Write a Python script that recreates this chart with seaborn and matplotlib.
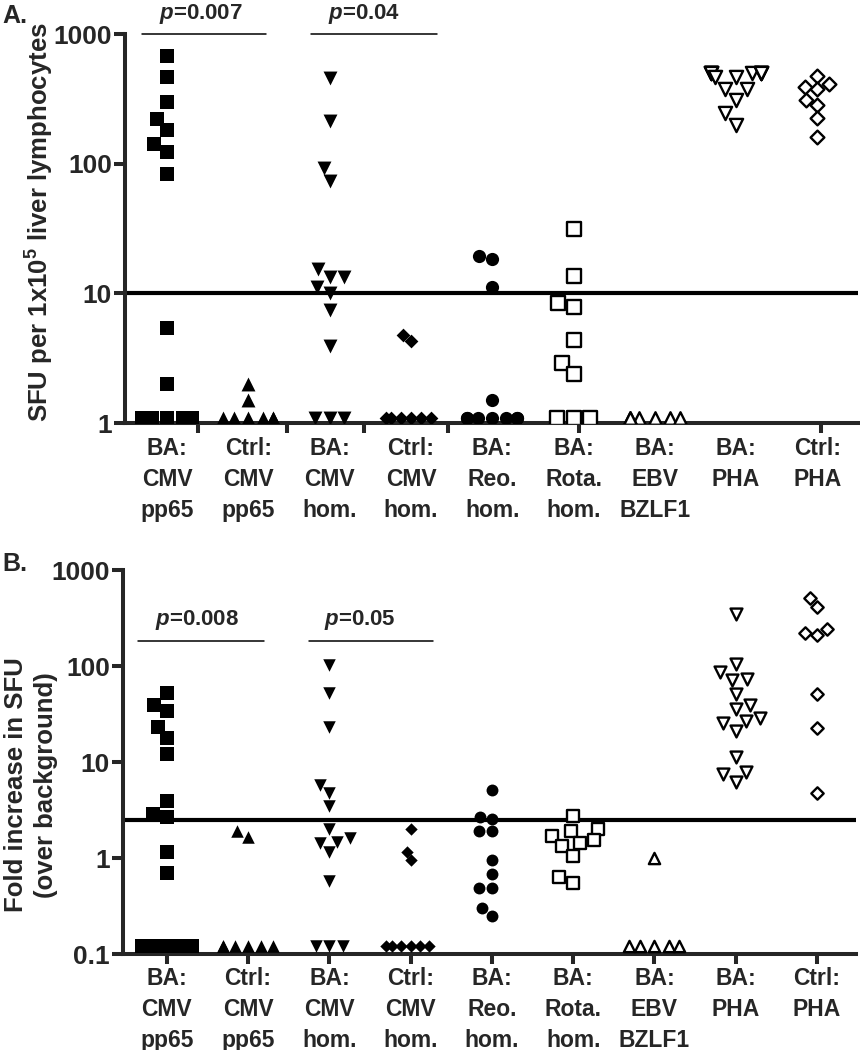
import numpy as np
import pandas as pd
import matplotlib
matplotlib.use("Agg")
import matplotlib.pyplot as plt
import seaborn as sns
from matplotlib.ticker import NullLocator

# ---- data (1.1 / 0.12 = points sitting on the axis floor) ----
categories = ["BA:\nCMV\npp65", "Ctrl:\nCMV\npp65", "BA:\nCMV\nhom.", "Ctrl:\nCMV\nhom.",
              "BA:\nReo.\nhom.", "BA:\nRota.\nhom.", "BA:\nEBV\nBZLF1", "BA:\nPHA", "Ctrl:\nPHA"]

# panel A: SFU per 1x10^5 liver lymphocytes
sfu_ba_cmv_pp65 = [676, 466, 300, 222, 183, 142, 123, 84, 5.4, 2.0, 1.1, 1.1, 1.1, 1.1, 1.1]
sfu_ctrl_cmv_pp65 = [2.0, 1.5, 1.1, 1.1, 1.1, 1.1, 1.1, 1.1]
sfu_ba_cmv_hom = [460, 214, 93, 74, 15.5, 13.3, 13.3, 11.1, 10.0, 7.5, 3.9, 1.1, 1.1, 1.1]
sfu_ctrl_cmv_hom = [4.8, 4.3, 1.1, 1.1, 1.1, 1.1, 1.1, 1.1]
sfu_ba_reo = [19.3, 18.3, 11.1, 1.5, 1.1, 1.1, 1.1, 1.1, 1.1, 1.1, 1.1]
sfu_ba_rota = [31.6, 13.5, 8.5, 7.8, 4.35, 2.9, 2.4, 1.1, 1.1, 1.1]
sfu_ba_ebv = [1.1, 1.1, 1.1, 1.1, 1.1, 1.1]
sfu_ba_pha = [500, 500, 500, 500, 500, 500, 500, 500, 500, 470, 470, 378, 378, 310, 246, 200]
sfu_ctrl_pha = [475, 412, 392, 378, 310, 283, 226, 161]

# panel B: fold increase in SFU over background
fold_ba_cmv_pp65 = [52, 39, 34, 23, 18, 12, 3.9, 2.9, 2.7, 1.15, 0.7, 0.12, 0.12, 0.12, 0.12, 0.12]
fold_ctrl_cmv_pp65 = [1.9, 1.65, 0.12, 0.12, 0.12, 0.12, 0.12, 0.12]
fold_ba_cmv_hom = [102, 52, 23, 5.8, 4.75, 3.5, 2.0, 1.6, 1.47, 1.43, 1.15, 0.58, 0.12, 0.12, 0.12]
fold_ctrl_cmv_hom = [2.0, 1.15, 0.95, 0.12, 0.12, 0.12, 0.12, 0.12, 0.12]
fold_ba_reo = [5.1, 2.67, 2.55, 1.9, 1.9, 0.95, 0.68, 0.49, 0.49, 0.30, 0.25]
fold_ba_rota = [2.74, 2.0, 1.9, 1.7, 1.54, 1.43, 1.33, 1.05, 0.63, 0.55]
fold_ba_ebv = [1.0, 0.12, 0.12, 0.12, 0.12, 0.12]
fold_ba_pha = [347, 105, 87, 73, 71, 51, 39, 36, 29, 27, 25.5, 21, 11.3, 7.9, 7.5, 6.2]
fold_ctrl_pha = [510, 412, 243, 220, 210, 51, 22.6, 4.75]

sfu_groups = [sfu_ba_cmv_pp65, sfu_ctrl_cmv_pp65, sfu_ba_cmv_hom, sfu_ctrl_cmv_hom,
              sfu_ba_reo, sfu_ba_rota, sfu_ba_ebv, sfu_ba_pha, sfu_ctrl_pha]
fold_groups = [fold_ba_cmv_pp65, fold_ctrl_cmv_pp65, fold_ba_cmv_hom, fold_ctrl_cmv_hom,
               fold_ba_reo, fold_ba_rota, fold_ba_ebv, fold_ba_pha, fold_ctrl_pha]

# marker, filled?, size (pt)
styles = [("s", True, 10.5), ("^", True, 10), ("v", True, 10), ("D", True, 7),
          ("o", True, 9.5), ("s", False, 9.5), ("^", False, 9), ("v", False, 9.5),
          ("D", False, 7)]

# group spacing on the numeric x axis; swarm width stays 0.8 units -> narrower columns
SP = 1.3


def long_df(groups):
    rows = []
    for i, vals in enumerate(groups):
        for v in vals:
            rows.append((i, i * SP, v))
    return pd.DataFrame(rows, columns=["idx", "pos", "value"])


sns.set_theme(style="ticks")
plt.rcParams["font.family"] = ["Liberation Sans", "DejaVu Sans"]
plt.rcParams["font.weight"] = "bold"
plt.rcParams["mathtext.fontset"] = "custom"
plt.rcParams["mathtext.rm"] = "Liberation Sans:bold"
plt.rcParams["mathtext.bf"] = "Liberation Sans:bold"
plt.rcParams["mathtext.it"] = "Liberation Sans:italic:bold"
plt.rcParams["axes.linewidth"] = 2.9

fig = plt.figure(figsize=(8.6, 10.5), dpi=100)
axA = fig.add_axes([0.1453, 0.5971, 0.8523, 0.3705])
axB = fig.add_axes([0.1430, 0.0914, 0.8523, 0.3657])


def draw_panel(ax, df, scale):
    ax.set_yscale("log")
    for i, (m, filled, sz) in enumerate(styles):
        sub = df[df["idx"] == i]
        sns.swarmplot(data=sub, x="pos", y="value", native_scale=True, orient="x", ax=ax,
                      marker=m, size=sz * scale,
                      color="black" if filled else "white",
                      edgecolor="black", linewidth=0 if filled else 1.7,
                      warn_thresh=1, zorder=3)
    ax.set_xlabel("")
    ax.set_ylabel("")
    sns.despine(ax=ax)
    ax.yaxis.set_minor_locator(NullLocator())
    ax.xaxis.set_minor_locator(NullLocator())
    ax.tick_params(axis="y", which="major", length=8, width=2.9, labelsize=19, pad=1.5)
    ax.set_xticks([i * SP for i in range(len(categories))])
    ax.set_xticklabels(categories, fontsize=16.5, linespacing=1.45)


dfA = long_df(sfu_groups)
dfB = long_df(fold_groups)

# ---- panel A ----
draw_panel(axA, dfA, 1.0)
axA.set_ylim(1, 1000)
axA.set_xlim(-0.52 * SP, 8.5 * SP)
axA.set_yticks([1, 10, 100, 1000], ["1", "10", "100", "1000"])
axA.axhline(10, color="black", lw=3, zorder=1)
# ticks in panel A sit off the label positions for the first groups
axA.tick_params(axis="x", which="major", length=0, pad=10)
axA.set_xticks([t * SP for t in [0.385, 1.47, 2.42, 3.46, 4.0, 5.07, 6.0, 7.0, 8.05]], minor=True)
axA.tick_params(axis="x", which="minor", length=7, width=2.9)
axA.plot([-0.31 * SP, 1.22 * SP], [1000, 1000], color="black", lw=1.1, clip_on=False)
axA.plot([1.77 * SP, 3.32 * SP], [1000, 1000], color="black", lw=1.1, clip_on=False)
axA.text(0.42 * SP, 1300, "$p$=0.007", ha="center", va="baseline", fontsize=16, clip_on=False)
axA.text(2.42 * SP, 1300, "$p$=0.04", ha="center", va="baseline", fontsize=16, clip_on=False)

# ---- panel B ----
draw_panel(axB, dfB, 0.9)
axB.set_ylim(0.1, 1000)
axB.set_xlim(-0.54 * SP, 8.48 * SP)
axB.set_yticks([0.1, 1, 10, 100, 1000], ["0.1", "1", "10", "100", "1000"])
axB.axhline(2.5, color="black", lw=3, zorder=1)
axB.tick_params(axis="x", which="major", length=7, width=2.9, pad=2)
axB.plot([-0.355 * SP, 1.19 * SP], [182, 182], color="black", lw=1.1)
axB.plot([1.75 * SP, 3.28 * SP], [182, 182], color="black", lw=1.1)
axB.text(0.37 * SP, 267, "$p$=0.008", ha="center", va="baseline", fontsize=16)
axB.text(2.38 * SP, 267, "$p$=0.05", ha="center", va="baseline", fontsize=16)

# ---- labels ----
fig.text(0.046, 1 - 222 / 1050, "SFU per 1x10$^{5}$ liver lymphocytes", rotation=90,
         ha="center", va="center", fontsize=18.5)
fig.text(0.036, 1 - 785 / 1050, "Fold increase in SFU\n(over background)", rotation=90,
         ha="center", va="center", fontsize=18.5, multialignment="center", linespacing=1.3)
fig.text(0.003, 1 - 4 / 1050, "A.", ha="left", va="top", fontsize=18)
fig.text(0.003, 1 - 552 / 1050, "B.", ha="left", va="top", fontsize=18)

fig.savefig("out.png", dpi=100)
